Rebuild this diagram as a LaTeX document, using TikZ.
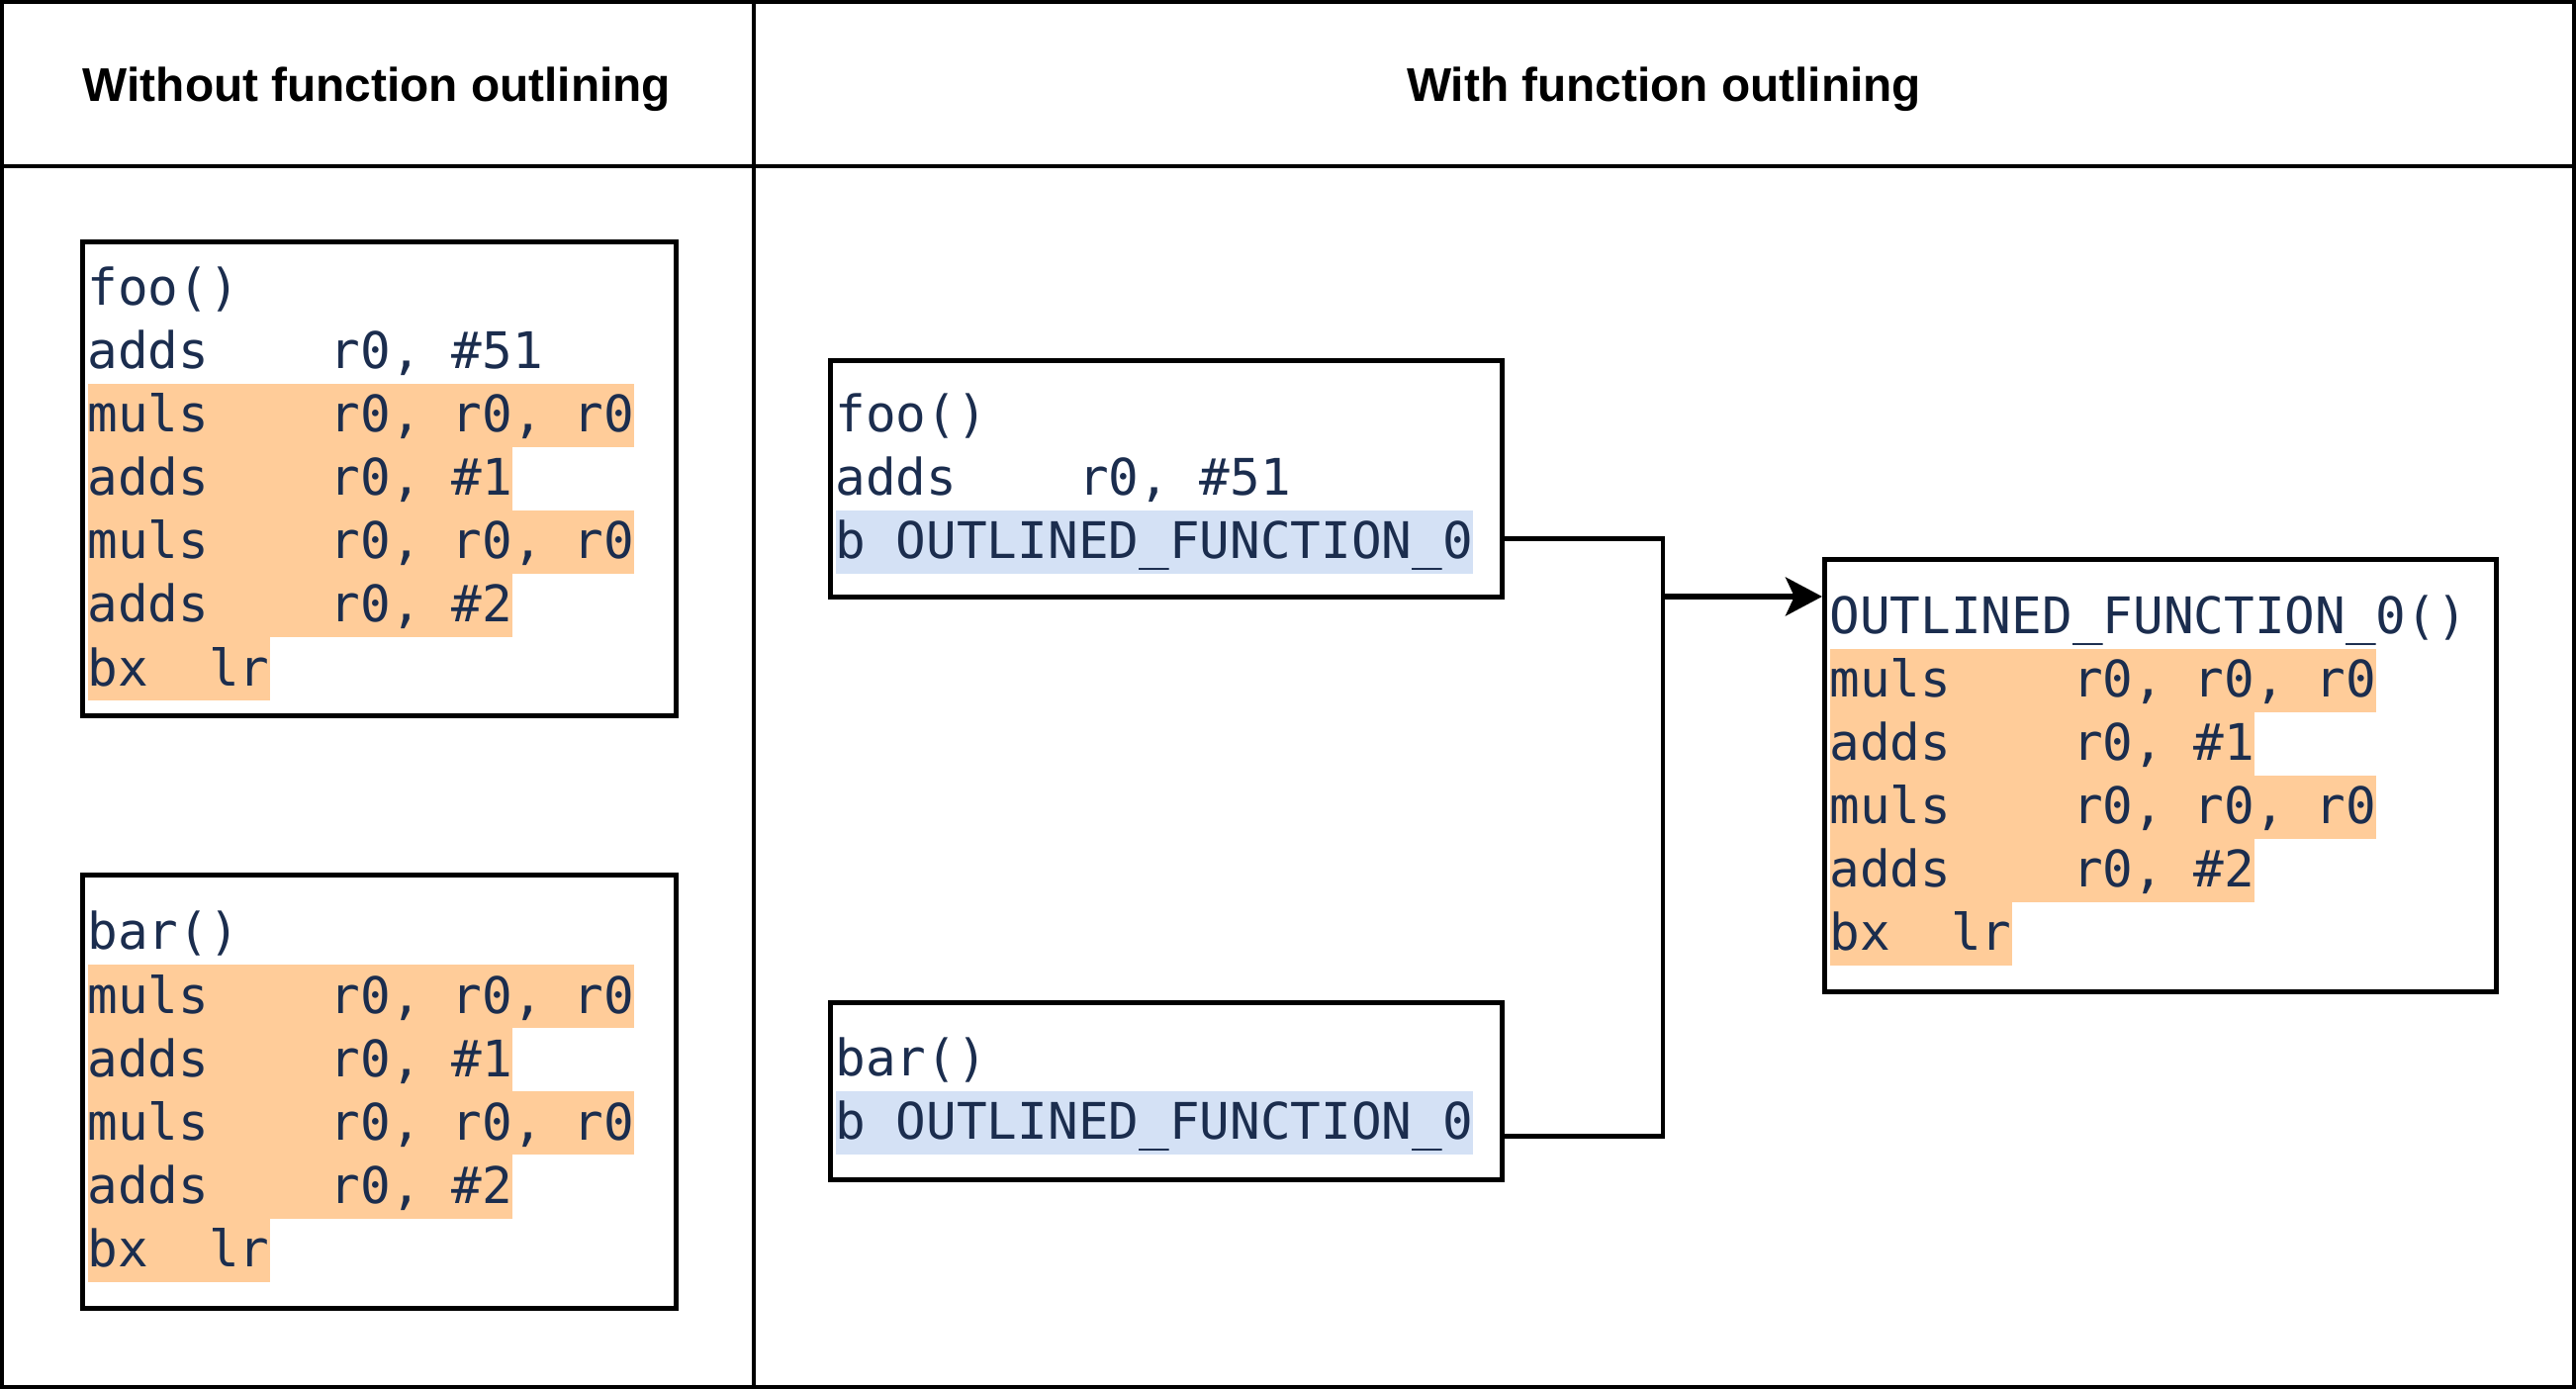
\documentclass[tikz,border=0pt]{standalone}
\usepackage{fontspec}
\setmainfont{Liberation Sans}
\newfontfamily\codefont{DejaVu Sans Mono}
\usetikzlibrary{arrows.meta,calc}

\definecolor{codeink}{HTML}{1B2D4E}
\definecolor{opband}{HTML}{FFCC99}
\definecolor{brband}{HTML}{D4E1F5}

% code font; \blank{n} leaves n character cells empty
\newcommand{\codesize}{\codefont\fontsize{14.5pt}{18pt}\selectfont}
\newcommand{\blank}[1]{\kern#1\fontcharwd\font`0\relax}

% one line of code, plain or on a coloured band
\newcommand{\codestrut}{\rule[-4.3pt]{0pt}{18.24pt}}
\newcommand{\plainrow}[1]{\hbox{\codestrut#1}}
\newcommand{\oprow}[1]{\hbox{\colorbox{opband}{\codestrut#1}}}
\newcommand{\brrow}[1]{\hbox{\colorbox{brband}{\codestrut#1}}}
\newcommand{\rows}[1]{\vbox{\offinterlineskip\setlength{\fboxsep}{0pt}#1}}

\tikzset{
  tableline/.style={line width=1.3pt},
  heading/.style={font=\bfseries\fontsize{13.6pt}{16pt}\selectfont},
  codebox/.style 2 args={draw, line width=1.3pt, anchor=north west,
    inner xsep=1.5pt, inner ysep=0pt, text width=#1cm-3pt, minimum height=#2cm,
    text=codeink, font=\codesize},
  wire/.style={line width=1.3pt},
  flow/.style={line width=1.8pt, -{Stealth[length=10.5pt,width=11pt,inset=2.5pt]}}
}

\begin{document}
\begin{tikzpicture}

\useasboundingbox (0,0) rectangle (26.04,-14.04);

% Table
\draw[tableline] (0.02,-0.02) rectangle (26.02,-14.02);
\draw[tableline] (0,-1.68) -- (26.04,-1.68);
\draw[tableline] (7.62,0) -- (7.62,-14.04);

% Headings
\node[heading] (lefthead) at (3.81,-0.90) {Without function outlining};
\node[heading] (righthead) at (16.82,-0.90) {With function outlining};

% Without outlining
\node[codebox={6.00}{4.79}] (foo) at (0.81,-2.42) {\rows{%
  \plainrow{foo()}
  \plainrow{adds\blank{4}r0,\blank{1}\#51}
  \oprow{muls\blank{4}r0,\blank{1}r0,\blank{1}r0}
  \oprow{adds\blank{4}r0,\blank{1}\#1}
  \oprow{muls\blank{4}r0,\blank{1}r0,\blank{1}r0}
  \oprow{adds\blank{4}r0,\blank{1}\#2}
  \oprow{bx\blank{2}lr}}};

\node[codebox={6.00}{4.38}] (bar) at (0.81,-8.82) {\rows{%
  \plainrow{bar()}
  \oprow{muls\blank{4}r0,\blank{1}r0,\blank{1}r0}
  \oprow{adds\blank{4}r0,\blank{1}\#1}
  \oprow{muls\blank{4}r0,\blank{1}r0,\blank{1}r0}
  \oprow{adds\blank{4}r0,\blank{1}\#2}
  \oprow{bx\blank{2}lr}}};

% With outlining
\node[codebox={6.79}{2.39}] (foonew) at (8.37,-3.62) {\rows{%
  \plainrow{foo()}
  \plainrow{adds\blank{4}r0,\blank{1}\#51}
  \brrow{b\blank{1}OUTLINED\_FUNCTION\_0}}};

\node[codebox={6.79}{1.79}] (barnew) at (8.37,-10.11) {\rows{%
  \plainrow{bar()}
  \brrow{b\blank{1}OUTLINED\_FUNCTION\_0}}};

\node[codebox={6.79}{4.37}] (outlined) at (18.42,-5.63) {\rows{%
  \plainrow{OUTLINED\_FUNCTION\_0()}
  \oprow{muls\blank{4}r0,\blank{1}r0,\blank{1}r0}
  \oprow{adds\blank{4}r0,\blank{1}\#1}
  \oprow{muls\blank{4}r0,\blank{1}r0,\blank{1}r0}
  \oprow{adds\blank{4}r0,\blank{1}\#2}
  \oprow{bx\blank{2}lr}}};

% Branches to the outlined function
\coordinate (join) at (16.81,-6.03);
\draw[wire] ($(foonew.north east)!0.75!(foonew.south east)$) -| (join);
\draw[wire] ($(barnew.north east)!0.75!(barnew.south east)$) -| (join);
\draw[flow] (join) -- (join -| outlined.west);

\end{tikzpicture}
\end{document}
